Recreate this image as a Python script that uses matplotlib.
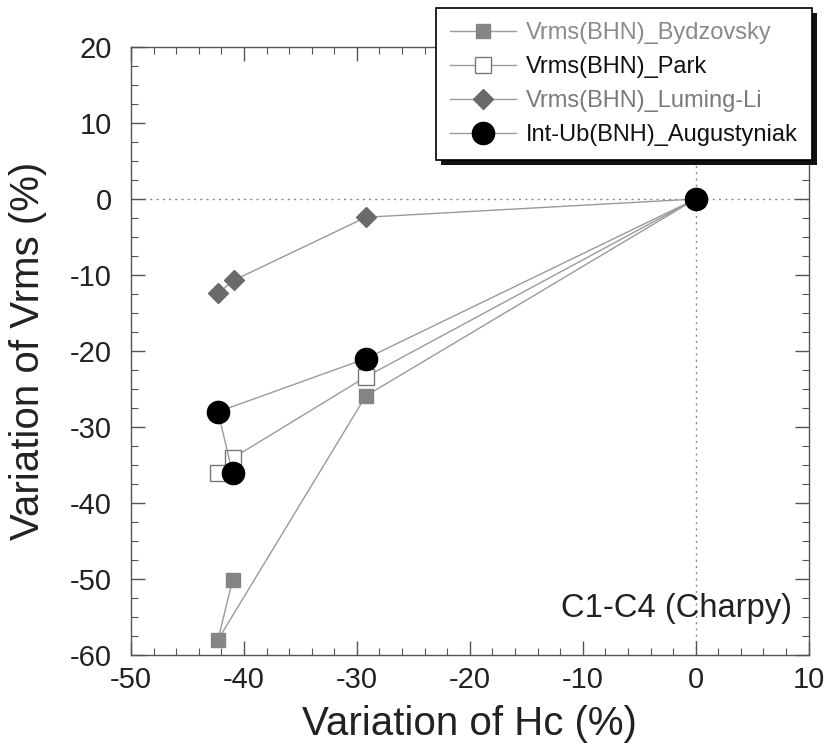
import matplotlib
matplotlib.use("Agg")
import matplotlib.pyplot as plt
from matplotlib.ticker import MultipleLocator
from matplotlib.patches import Rectangle

plt.rcParams['font.family'] = ['Liberation Sans', 'DejaVu Sans']
plt.rcParams['axes.unicode_minus'] = False

# Coercivity variation (Hc, %) and corresponding Vrms variation per model
hc_byd = [-41.0, -42.3, -29.2, 0.0]
vrms_byd = [-50.1, -58.0, -25.9, 0.0]

hc_park = [-42.3, -41.0, -29.2, 0.0]
vrms_park = [-36.1, -34.1, -23.4, 0.0]

hc_lum = [-42.3, -40.9, -29.2, 0.0]
vrms_lum = [-12.4, -10.7, -2.4, 0.0]

hc_aug = [-41.0, -42.3, -29.2, 0.0]
vrms_aug = [-36.1, -28.0, -21.0, 0.0]

labels = ["Vrms(BHN)_Bydzovsky", "Vrms(BHN)_Park",
          "Vrms(BHN)_Luming-Li", "Int-Ub(BNH)_Augustyniak"]

fig = plt.figure(figsize=(8.26, 7.5), dpi=100)
ax = fig.add_axes([0.1586, 0.1267, 0.8204, 0.8106])

ax.axhline(0, color='#888888', lw=1.0, ls=(0, (1.5, 3)), zorder=1)
ax.axvline(0, color='#888888', lw=1.0, ls=(0, (1.5, 3)), zorder=1)

line_kw = dict(color='#9a9a9a', lw=1.0, zorder=2)
h1, = ax.plot(hc_byd, vrms_byd, marker='s', ms=10, mfc='#858585', mec='#858585',
              label=labels[0], **line_kw)
h2, = ax.plot(hc_park, vrms_park, marker='s', ms=12, mfc='white', mec='#777777',
              mew=1.0, label=labels[1], **line_kw)
h3, = ax.plot(hc_lum, vrms_lum, marker='D', ms=10, mfc='#6a6a6a', mec='#6a6a6a',
              label=labels[2], **line_kw)
h4, = ax.plot(hc_aug, vrms_aug, marker='o', ms=16, mfc='black', mec='black',
              label=labels[3], **line_kw)

ax.set_xlim(-50, 10)
ax.set_ylim(-60, 20)
ax.xaxis.set_major_locator(MultipleLocator(10))
ax.xaxis.set_minor_locator(MultipleLocator(2))
ax.yaxis.set_major_locator(MultipleLocator(10))
ax.yaxis.set_minor_locator(MultipleLocator(2.5))
ax.tick_params(which='both', direction='in', top=True, right=True,
               color='#555555', labelcolor='#222222')
ax.tick_params(which='major', length=10, width=1.0, labelsize=21)
ax.tick_params(axis='x', which='major', pad=8)
ax.tick_params(axis='y', which='major', pad=14)
ax.tick_params(which='minor', length=5, width=0.8)
for s in ax.spines.values():
    s.set_color('#555555')
    s.set_linewidth(1.0)

ax.set_xlabel("Variation of Hc (%)", fontsize=29, color='#222222', labelpad=8)
ax.set_ylabel("Variation of Vrms (%)", fontsize=29, color='#222222', labelpad=16)

ax.text(0.975, 0.062, "C1-C4 (Charpy)", transform=ax.transAxes, fontsize=23.5,
        color='#222222', ha='right', va='baseline')

leg = fig.legend(handles=[h1, h2, h3, h4], labels=labels,
                 loc='upper right', bbox_to_anchor=(0.983, 0.989),
                 borderaxespad=0, fontsize=17, handlelength=2.8,
                 handletextpad=0.4, labelspacing=0.5, borderpad=0.6,
                 fancybox=False, framealpha=1, edgecolor='black')
leg.get_frame().set_linewidth(1.2)
leg.set_zorder(6)
for txt, col in zip(leg.get_texts(), ['#8a8a8a', '#111111', '#7a7a7a', '#111111']):
    txt.set_color(col)

# solid drop shadow behind the legend box
fig.canvas.draw()
bb = leg.get_frame().get_window_extent().transformed(fig.transFigure.inverted())
dx, dy = 5 / fig.bbox.width, -5 / fig.bbox.height
shadow = Rectangle((bb.x0 + dx, bb.y0 + dy), bb.width, bb.height,
                   transform=fig.transFigure, facecolor='#111111',
                   edgecolor='none', zorder=5)
fig.add_artist(shadow)

fig.savefig("out.png", dpi=100)
